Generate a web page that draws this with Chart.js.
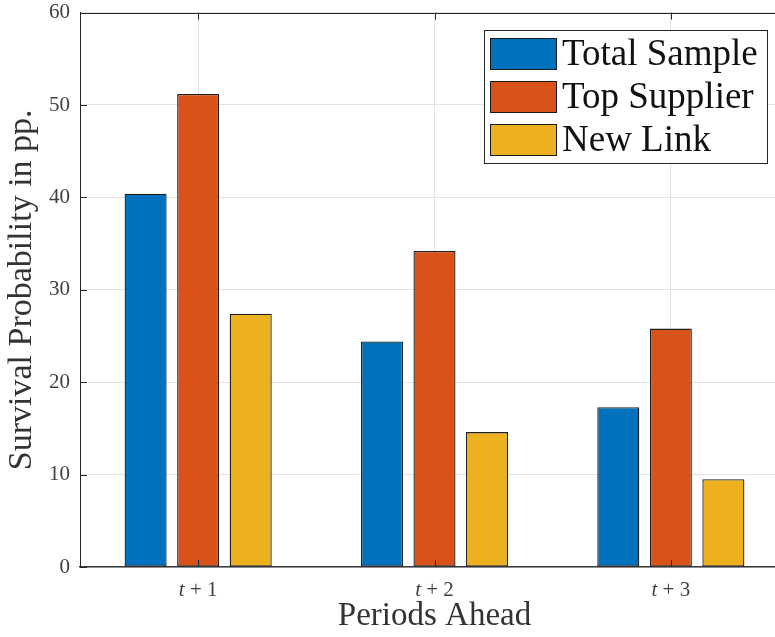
<!DOCTYPE html>
<html>
<head>
<meta charset="utf-8">
<script src="https://cdn.jsdelivr.net/npm/chart.js@4.4.0/dist/chart.umd.min.js"></script>
<style>
  html, body { margin: 0; padding: 0; background: #fff; overflow: hidden; }
  #wrap { width: 775px; height: 637px; overflow: hidden; position: relative; }
  #box { width: 790px; height: 647px; margin-top: -10px; }
</style>
</head>
<body>
<div id="wrap"><div id="box"><canvas id="myChart" width="790" height="647"></canvas></div></div>
<script>
// data
const periods = ['t + 1', 't + 2', 't + 3']
const seriesNames = ['Total Sample', 'Top Supplier', 'New Link']
const totalSample = [40.4, 24.4, 17.3]
const topSupplier = [51.2, 34.2, 25.8]
const newLink = [27.4, 14.6, 9.5]
const yTicks = [0, 10, 20, 30, 40, 50, 60]

const colors = ['#0072BD', '#D95319', '#EDB120']
const serif = "'Liberation Serif', 'Times New Roman', serif"
const axisColor = '#262626'

Chart.defaults.font.family = serif

// matlab style: inward ticks, top box line, math style x labels
const matlabAxes = {
  id: 'matlabAxes',
  afterDatasetsDraw(chart) {
    const ctx = chart.ctx
    const a = chart.chartArea
    const x = chart.scales.x
    const y = chart.scales.y
    ctx.save()
    ctx.strokeStyle = axisColor
    ctx.lineWidth = 1
    ctx.beginPath()
    ctx.moveTo(a.left, Math.round(a.top) + 0.5)
    ctx.lineTo(a.right, Math.round(a.top) + 0.5)
    y.ticks.forEach((t, i) => {
      const py = Math.round(y.getPixelForTick(i)) + 0.5
      ctx.moveTo(a.left, py)
      ctx.lineTo(a.left + 7, py)
    })
    x.ticks.forEach((t, i) => {
      const px = Math.round(x.getPixelForTick(i)) + 0.5
      ctx.moveTo(px, a.bottom)
      ctx.lineTo(px, a.bottom - 7)
      ctx.moveTo(px, a.top)
      ctx.lineTo(px, a.top + 7)
    })
    ctx.stroke()

    // x labels: italic variable, upright rest
    ctx.fillStyle = '#404040'
    ctx.textBaseline = 'alphabetic'
    ctx.textAlign = 'left'
    chart.data.labels.forEach((lab, i) => {
      const head = lab.slice(0, 1)
      const rest = lab.slice(1)
      ctx.font = 'italic 21px ' + serif
      const w1 = ctx.measureText(head).width
      ctx.font = '21px ' + serif
      const w2 = ctx.measureText(rest).width
      const px = x.getPixelForTick(i) - (w1 + w2) / 2
      ctx.font = 'italic 21px ' + serif
      ctx.fillText(head, px, a.bottom + 29)
      ctx.font = '21px ' + serif
      ctx.fillText(rest, px + w1, a.bottom + 29)
    })
    ctx.restore()
  }
}

// legend drawn inside the axes, upper right
const boxLegend = {
  id: 'boxLegend',
  afterDraw(chart) {
    const ctx = chart.ctx
    const a = chart.chartArea
    const left = Math.round(a.left) + 404, top = Math.round(a.top) + 17
    const w = 283, h = 133
    ctx.save()
    ctx.fillStyle = '#fff'
    ctx.fillRect(left, top, w, h)
    ctx.strokeStyle = axisColor
    ctx.lineWidth = 1
    ctx.strokeRect(left + 0.5, top + 0.5, w, h)
    ctx.font = '37px ' + serif
    ctx.textBaseline = 'middle'
    chart.data.datasets.forEach((ds, i) => {
      const sy = top + 8 + i * 43
      ctx.fillStyle = ds.backgroundColor
      ctx.fillRect(left + 6, sy, 66, 31)
      ctx.strokeStyle = '#1a1a1a'
      ctx.strokeRect(left + 6.5, sy + 0.5, 66, 31)
      ctx.fillStyle = '#111'
      ctx.fillText(ds.label, left + 78, sy + 17)
    })
    ctx.restore()
  }
}

const data = {
  labels: periods,
  datasets: [totalSample, topSupplier, newLink].map((vals, i) => ({
    label: seriesNames[i],
    data: vals,
    backgroundColor: colors[i],
    borderColor: '#1f1f1f',
    borderWidth: 1.3,
    borderSkipped: false,
    categoryPercentage: 0.667,
    barPercentage: 0.8
  }))
}

const config = {
  type: 'bar',
  data: data,
  plugins: [matlabAxes, boxLegend],
  options: {
    responsive: false,
    animation: false,
    devicePixelRatio: 1,
    layout: { padding: { top: 2, right: 1, left: 0, bottom: 0 } },
    plugins: {
      legend: { display: false },
      tooltip: { enabled: false }
    },
    scales: {
      x: {
        offset: true,
        grid: { display: true, offset: false, color: '#e3e3e3', drawTicks: false },
        border: { display: true, color: '#3a3a3a', width: 1.5 },
        ticks: { display: false },
        title: {
          display: true,
          text: 'Periods Ahead',
          color: '#333',
          font: { size: 33 },
          padding: { top: 0, bottom: 1 }
        },
        afterFit: (scale) => { scale.height = 70 }
      },
      y: {
        min: 0,
        max: 60,
        afterBuildTicks: (scale) => { scale.ticks = yTicks.map(v => ({ value: v })) },
        grid: { color: '#e3e3e3', drawTicks: false },
        border: { display: true, color: axisColor, width: 1 },
        ticks: { padding: 10, color: '#404040', font: { size: 21 } },
        title: {
          display: true,
          text: 'Survival Probability in pp.',
          color: '#333',
          font: { size: 34 },
          padding: { top: 2, bottom: 0 }
        },
        afterFit: (scale) => { scale.width = 80 }
      }
    }
  }
}

let myChart = new Chart(document.getElementById('myChart'), config)
</script>
</body>
</html>
